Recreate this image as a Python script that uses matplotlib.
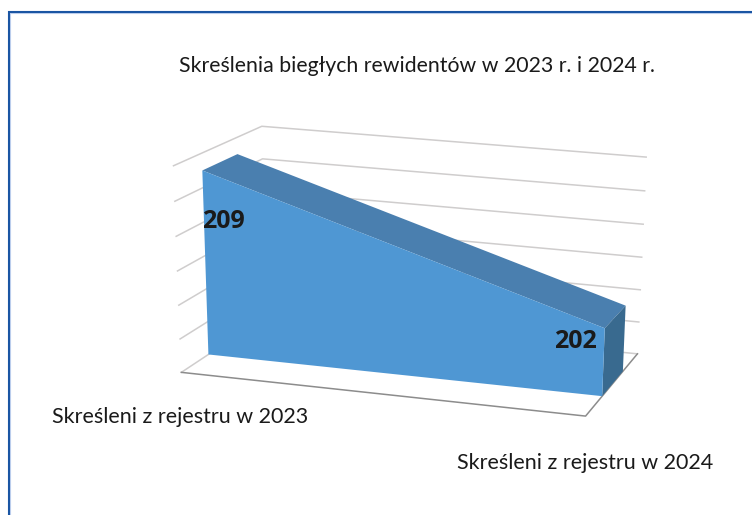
import numpy as np
import matplotlib
matplotlib.use("Agg")
import matplotlib.pyplot as plt
from matplotlib.patches import Polygon

title = "Skreślenia biegłych rewidentów w 2023 r. i 2024 r."
categories = ["Skreśleni z rejestru w 2023", "Skreśleni z rejestru w 2024"]
values = [209, 202]
z_ticks = [198, 200, 202, 204, 206, 208, 210]

W, H = 752, 515
plt.rcParams['font.family'] = ['Lato', 'DejaVu Sans']


def fit_camera(world, pixel):
    """Least squares 3x4 projection matrix from world/pixel point pairs."""
    rows = []
    for (x, d, z), (u, v) in zip(world, pixel):
        p = [x, d, z, 1.0]
        rows.append(p + [0, 0, 0, 0] + [-u * c for c in p])
        rows.append([0, 0, 0, 0] + p + [-v * c for c in p])
    return np.linalg.svd(np.array(rows))[2][-1].reshape(3, 4)


# box corners of the 3D plot, x and depth run 0..1, height in normalised units
box_world = [(0, 0, 0), (1, 0, 0), (1, 1, 0), (0, 1, 0),
             (0, 0, 1), (1, 0, 1), (1, 1, 1), (0, 1, 1)]
box_pixel = [(181, 370), (585.7, 416), (637.7, 353.3), (266, 319),
             (173, 164), (594, 206), (645, 153.7), (262.7, 127.3)]
camera = fit_camera(box_world, box_pixel)


def project(x, d, value):
    z = (value - z_ticks[0]) / (z_ticks[-1] - z_ticks[0])
    p = camera @ np.array([x, d, z, 1.0])
    return p[0] / p[2], p[1] / p[2]


fig = plt.figure(figsize=(W / 100, H / 100), dpi=100)
ax = fig.add_axes([0, 0, 1, 1])
ax.set_xlim(0, W)
ax.set_ylim(H, 0)
ax.axis('off')

# outer frame
ax.plot([9.8, 9.8, W], [H, 13.4, 13.4], color='#C3D3F0', lw=0.8, zorder=1)
ax.plot([8.5, 8.5, W], [H, 12, 12], color='#1A55A3', lw=1.5, zorder=2,
        solid_joinstyle='miter')

# walls and floor
grid_color = '#CFCDCD'
for tick in z_ticks:
    pts = [project(0, 0, tick), project(0, 1, tick), project(1, 1, tick)]
    ax.plot(*zip(*pts), color=grid_color, lw=1.1, zorder=3)
floor_pts = [project(0, 0, z_ticks[0]), project(1, 0, z_ticks[0]), project(1, 1, z_ticks[0])]
ax.plot(*zip(*floor_pts), color='#8C8C8C', lw=1.1, zorder=3)

# area body
d_front, d_back = 0.3, 0.7
base = z_ticks[0]
front = [project(0, d_front, base), project(0, d_front, values[0]),
         project(1, d_front, values[1]), project(1, d_front, base)]
top = [project(0, d_front, values[0]), project(0, d_back, values[0]),
       project(1, d_back, values[1]), project(1, d_front, values[1])]
side = [project(1, d_front, base), project(1, d_front, values[1]),
        project(1, d_back, values[1]), project(1, d_back, base)]
ax.add_patch(Polygon(top, closed=True, fc='#4A7FAF', ec='none', zorder=4))
ax.add_patch(Polygon(side, closed=True, fc='#396A8F', ec='none', zorder=4))
ax.add_patch(Polygon(front, closed=True, fc='#4F97D3', ec='none', zorder=5))

# texts
ax.text(416.5, 66.5, title, ha='center', va='center', fontsize=15.3, color='#1A1A1A', zorder=6)
ax.text(223.5, 222, str(values[0]), ha='center', va='center', fontsize=18,
        family='Open Sans', fontweight='bold', color='#1A1A1A', zorder=6)
ax.text(575.5, 342, str(values[1]), ha='center', va='center', fontsize=18,
        family='Open Sans', fontweight='bold', color='#1A1A1A', zorder=6)
ax.text(180.5, 417, categories[0], ha='center', va='center', fontsize=15.5, color='#1A1A1A', zorder=6)
ax.text(585.5, 463, categories[1], ha='center', va='center', fontsize=15.5, color='#1A1A1A', zorder=6)

fig.savefig('out.png', dpi=100)
